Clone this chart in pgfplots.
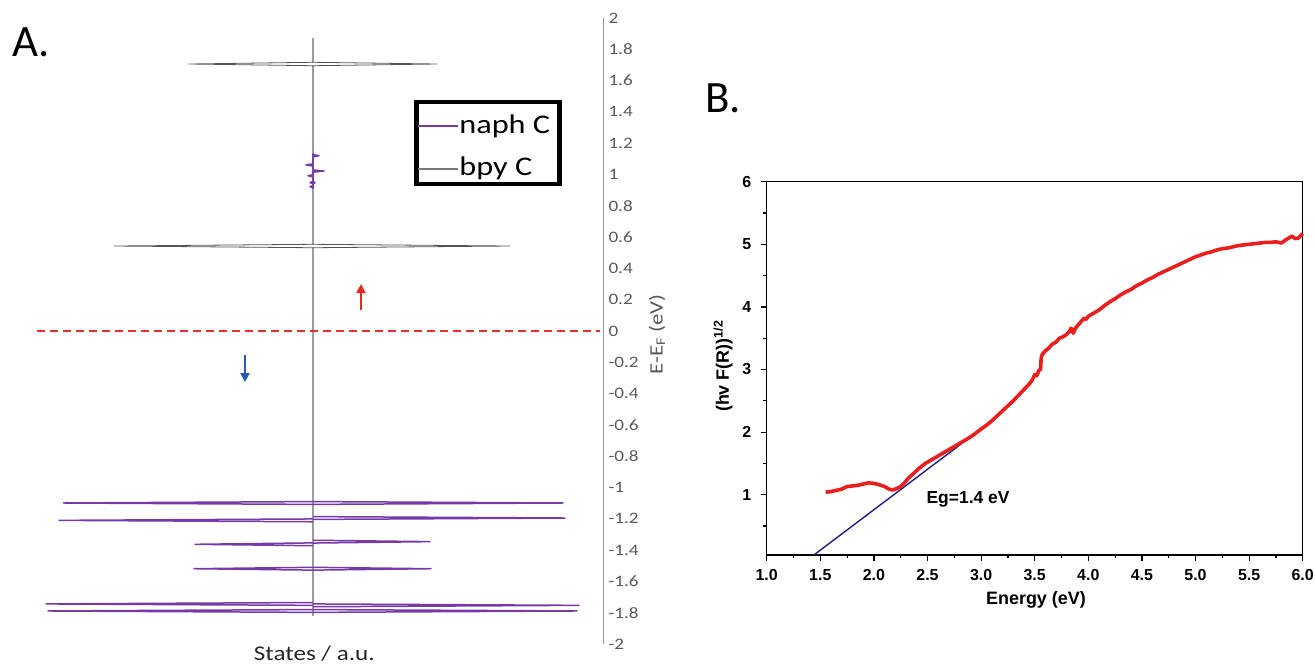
\documentclass[border=0pt]{standalone}
\usepackage{fontspec}
\setmainfont{Carlito}
\usepackage{pgfplots}
\pgfplotsset{compat=1.18}
\usetikzlibrary{arrows.meta}
\newfontfamily\calib{Carlito}[FakeStretch=1.2]
\newfontfamily\arial{Liberation Sans}
\definecolor{naph}{RGB}{118,58,168}
\definecolor{bpy}{RGB}{85,85,85}
\definecolor{bpyleg}{RGB}{120,120,120}
\definecolor{tickgrey}{RGB}{89,89,89}
\definecolor{axgrey}{RGB}{150,150,150}
\definecolor{dashred}{RGB}{235,45,45}
\definecolor{arrred}{RGB}{235,40,30}
\definecolor{arrblue}{RGB}{40,90,175}
\definecolor{curvered}{RGB}{235,30,30}
\definecolor{fitblue}{RGB}{30,30,130}
\begin{document}
\begin{tikzpicture}
\path[use as bounding box] (0bp,0bp) rectangle (1315bp,665bp);
\node[anchor=base west, inner sep=0pt, font=\fontsize{45}{50}\selectfont] at (12bp,608bp) {A.};
\node[anchor=base west, inner sep=0pt, font=\fontsize{45}{50}\selectfont] at (705bp,552bp) {B.};
\begin{axis}[
  at={(37bp,21bp)}, anchor=south west, scale only axis,
  width=566bp, height=626bp,
  xmin=-2.76, xmax=2.90, ymin=-2, ymax=2,
  axis x line=none, axis y line*=right,
  axis line style={draw=axgrey, line width=0.9bp},
  ytick={-2,-1.8,-1.6,-1.4,-1.2,-1,-0.8,-0.6,-0.4,-0.2,0,0.2,0.4,0.6,0.8,1,1.2,1.4,1.6,1.8,2},
  yticklabels={-2,-1.8,-1.6,-1.4,-1.2,-1,-0.8,-0.6,-0.4,-0.2,0,0.2,0.4,0.6,0.8,1,1.2,1.4,1.6,1.8,2},
  major tick length=0pt,
  yticklabel style={anchor=west, font=\calib\fontsize{16}{19}\selectfont, text=tickgrey, xshift=2bp},
  ylabel={E-E\textsubscript{F} (eV)},
  ylabel style={at={(axis description cs:1.0954,0.495)}, anchor=center, font=\calib\fontsize{19}{22}\selectfont, text=tickgrey},
  clip=false,
  unbounded coords=jump,
  legend image code/.code={\draw[#1] (0bp,7bp) -- (40bp,7bp);},
  legend cell align=left,
  legend style={at={(rel axis cs:0.6661,0.869)}, anchor=north west, draw=black, line width=4.5bp,
    font=\calib\fontsize{27}{30}\selectfont, inner xsep=1bp, inner ysep=7bp,
    column sep=0bp, cells={anchor=base west},
    nodes={inner xsep=0.5bp, inner ysep=0bp}},
]
\addlegendimage{naph, line width=1.6bp}
\addlegendentry{\rule{0pt}{24bp}naph C\kern8bp}
\addlegendimage{bpyleg, line width=1.6bp}
\addlegendentry{\rule[-10bp]{0pt}{51bp}bpy C}
% bpy C, spin down (left) and spin up (right)
\addplot[bpy, line width=0.8bp, line join=round, forget plot] coordinates {
 (0,1.872) (0,1.717) (-1.24,1.706) (0,1.695) (0,0.554) (-1.99,0.543) (0,0.532) (0,-1.821)};
\addplot[bpy, line width=0.8bp, line join=round, forget plot] coordinates {
 (0,1.872) (0,1.717) (1.24,1.706) (0,1.695) (0,0.554) (1.97,0.543) (0,0.532) (0,-1.821)};
% naph C, spin down (left)
\addplot[naph, line width=1.5bp, line join=round, forget plot] coordinates {
 (0,1.135) (0,1.068) (-0.07,1.061) (0,1.054) (0,0.999) (-0.05,0.992) (0,0.985) (0,0.955) (-0.03,0.948) (0,0.941) (0,0.929) (-0.03,0.922) (0,0.915) (0,0.91)
 (nan,nan)
 (0,-1.090) (-2.495,-1.099) (0,-1.108)
 (nan,nan)
 (0,-1.201) (-2.54,-1.21) (0,-1.219)
 (nan,nan)
 (0,-1.354) (-1.18,-1.363) (0,-1.372)
 (nan,nan)
 (0,-1.510) (-1.19,-1.519) (0,-1.528)
 (nan,nan)
 (0,-1.735) (-2.67,-1.744) (0,-1.753)
 (nan,nan)
 (0,-1.780) (-2.65,-1.789) (0,-1.798)};
% naph C, spin up (right)
\addplot[naph, line width=1.5bp, line join=round, forget plot] coordinates {
 (0,1.135) (0,1.127) (0.06,1.12) (0,1.113) (0,1.029) (0.11,1.022) (0,1.015) (0,0.955) (0.02,0.948) (0,0.941) (0,0.91)
 (nan,nan)
 (0,-1.090) (2.50,-1.099) (0,-1.108)
 (nan,nan)
 (0,-1.186) (2.52,-1.195) (0,-1.204)
 (nan,nan)
 (0,-1.337) (1.17,-1.346) (0,-1.355)
 (nan,nan)
 (0,-1.510) (1.18,-1.519) (0,-1.528)
 (nan,nan)
 (0,-1.744) (2.66,-1.753) (0,-1.762)
 (nan,nan)
 (0,-1.780) (2.64,-1.789) (0,-1.798)};
% Fermi level
\addplot[dashred, line width=2.2bp, dash pattern=on 8bp off 5bp, forget plot] coordinates {(-2.76,0) (2.87,0)};
% spin arrows
\addplot[arrred, line width=2.4bp, -{Triangle[width=9bp,length=9bp]}, forget plot] coordinates {(0.48,0.134) (0.48,0.30)};
\addplot[arrblue, line width=2.4bp, -{Triangle[width=9bp,length=9bp]}, forget plot] coordinates {(-0.68,-0.153) (-0.68,-0.326)};
\node[anchor=base, inner sep=0pt, font=\calib\fontsize{21}{24}\selectfont, text=black!85] at (axis description cs:0.49,-0.027) {States / a.u.};
\end{axis}
\begin{axis}[
  at={(766.7bp,110bp)}, anchor=south west, scale only axis,
  width=536bp, height=373.3bp,
  xmin=1, xmax=6, ymin=0.037, ymax=6,
  axis line style={black, line width=1.2bp},
  tick style={black, line width=1.2bp},
  tick align=outside, tick pos=left,
  major tick length=6bp, minor tick length=3.5bp,
  xtick={1,1.5,2,2.5,3,3.5,4,4.5,5,5.5,6},
  minor xtick={1.25,1.75,2.25,2.75,3.25,3.75,4.25,4.75,5.25,5.75},
  ytick={1,2,3,4,5,6},
  minor ytick={0.5,1.5,2.5,3.5,4.5,5.5},
  /pgf/number format/assume math mode=true,
  xticklabel style={/pgf/number format/.cd, fixed, fixed zerofill, precision=1, /tikz/.cd, font=\arial\bfseries\fontsize{16}{19}\selectfont, yshift=-5bp},
  yticklabel style={font=\arial\bfseries\fontsize{16}{19}\selectfont, xshift=-6bp},
  xlabel={Energy (eV)},
  xlabel style={at={(axis description cs:0.5024,-0.1205)}, anchor=center, font=\arial\bfseries\fontsize{18}{21}\selectfont},
  ylabel={(hv F(R))\textsuperscript{1/2}},
  ylabel style={at={(axis description cs:-0.0815,0.506)}, anchor=center, font=\arial\bfseries\fontsize{18}{21}\selectfont},
  clip=false,
]
\addplot[fitblue, line width=1.4bp] coordinates {(1.44,0.037) (3.08,2.155)};
\addplot[curvered, line width=3.6bp, line join=round] coordinates {
(1.55,1.04)(1.60,1.05)(1.65,1.07)(1.70,1.09)(1.75,1.13)(1.80,1.14)(1.85,1.15)(1.90,1.17)(1.95,1.19)(2.00,1.18)
(2.05,1.16)(2.10,1.13)(2.14,1.09)(2.17,1.075)(2.20,1.09)(2.24,1.12)(2.28,1.18)(2.32,1.26)(2.37,1.34)(2.42,1.42)
(2.48,1.50)(2.55,1.57)(2.61,1.63)(2.68,1.70)(2.75,1.77)(2.82,1.84)(2.88,1.90)(2.94,1.97)(3.00,2.05)(3.05,2.11)
(3.10,2.18)(3.15,2.26)(3.20,2.34)(3.25,2.42)(3.30,2.50)(3.35,2.59)(3.40,2.68)(3.45,2.77)(3.48,2.84)(3.50,2.92)
(3.52,2.90)(3.54,2.99)(3.555,3.00)(3.56,3.18)(3.57,3.24)(3.60,3.30)(3.63,3.34)(3.66,3.40)(3.70,3.44)(3.73,3.50)
(3.76,3.52)(3.79,3.55)(3.82,3.60)(3.84,3.66)(3.86,3.58)(3.88,3.66)(3.91,3.72)(3.94,3.78)(3.96,3.82)(3.98,3.80)
(4.00,3.85)(4.05,3.90)(4.10,3.95)(4.15,4.02)(4.20,4.08)(4.25,4.13)(4.30,4.19)(4.35,4.24)(4.40,4.28)(4.45,4.34)
(4.50,4.38)(4.55,4.43)(4.60,4.47)(4.65,4.52)(4.70,4.56)(4.75,4.60)(4.80,4.64)(4.85,4.68)(4.90,4.72)(4.95,4.76)
(5.00,4.80)(5.05,4.83)(5.10,4.86)(5.15,4.88)(5.20,4.91)(5.25,4.93)(5.30,4.94)(5.35,4.96)(5.40,4.98)(5.45,4.99)
(5.50,5.00)(5.55,5.01)(5.60,5.02)(5.65,5.03)(5.70,5.03)(5.75,5.04)(5.80,5.02)(5.85,5.08)(5.90,5.13)(5.93,5.09)
(5.96,5.10)(6.00,5.17)};
\node[anchor=base, inner sep=0pt, font=\arial\bfseries\fontsize{17.5}{20}\selectfont] at (axis cs:2.878,0.867) {Eg=1.4 eV};
\end{axis}
\end{tikzpicture}
\end{document}
